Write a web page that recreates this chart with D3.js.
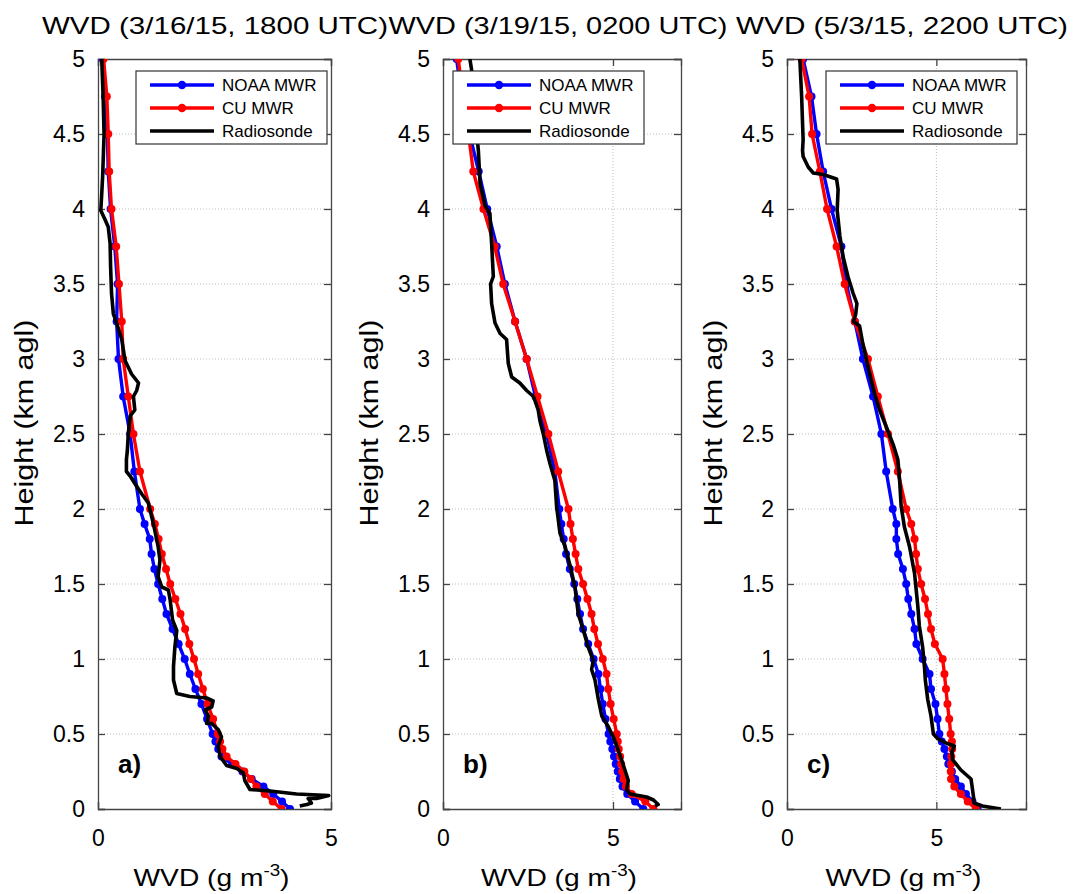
<!DOCTYPE html>
<html>
<head>
<meta charset="utf-8">
<script src="https://cdn.jsdelivr.net/npm/d3@7"></script>
<style>
  body { margin: 0; background: #fff; }
  text { font-family: "Liberation Sans", Arial, sans-serif; fill: #000; }
</style>
</head>
<body>
<svg id="chart"></svg>
<script>
var WIDTH = 1075;
var HEIGHT = 894;

// retrieval levels (km agl) shared by both radiometers
var levels = [0, 0.05, 0.1, 0.15, 0.2, 0.25, 0.3, 0.35, 0.4, 0.45, 0.5,
  0.6, 0.7, 0.8, 0.9, 1.0, 1.1, 1.2, 1.3, 1.4, 1.5, 1.6, 1.7, 1.8, 1.9, 2.0,
  2.25, 2.5, 2.75, 3.0, 3.25, 3.5, 3.75, 4.0, 4.25, 4.5, 4.75, 5.0];

// panel a) 3/16/15 1800 UTC
var noaaA = [4.12, 3.95, 3.76, 3.55, 3.30, 3.10, 2.88, 2.65, 2.58, 2.52, 2.46,
  2.34, 2.22, 2.09, 1.97, 1.86, 1.73, 1.60, 1.47, 1.38, 1.29, 1.21, 1.15, 1.11, 1.00, 0.90,
  0.78, 0.69, 0.54, 0.44, 0.40, 0.42, 0.36, 0.27, 0.22, 0.20, 0.15, 0.10];
var cuA = [3.94, 3.75, 3.58, 3.40, 3.28, 3.14, 2.95, 2.76, 2.67, 2.62, 2.57,
  2.47, 2.35, 2.25, 2.15, 2.06, 1.96, 1.87, 1.77, 1.66, 1.55, 1.46, 1.37, 1.30, 1.22, 1.12,
  0.90, 0.76, 0.65, 0.54, 0.51, 0.45, 0.39, 0.29, 0.24, 0.22, 0.19, 0.12];
var sondeA = [[4.33, 0.02], [4.48, 0.03], [4.58, 0.04], [4.51, 0.07], [4.69, 0.07], [4.95, 0.09],
  [4.26, 0.10], [3.69, 0.12], [3.26, 0.13], [3.15, 0.19], [3.12, 0.24], [2.98, 0.27], [2.76, 0.29],
  [2.62, 0.35], [2.58, 0.42], [2.65, 0.48], [2.58, 0.53], [2.44, 0.57], [2.33, 0.57], [2.37, 0.62],
  [2.30, 0.66], [2.44, 0.68], [2.47, 0.72], [2.33, 0.74], [1.97, 0.75], [1.69, 0.77], [1.62, 0.86],
  [1.62, 0.95], [1.65, 1.08], [1.69, 1.19], [1.60, 1.26], [1.55, 1.39], [1.51, 1.46], [1.37, 1.48],
  [1.29, 1.55], [1.33, 1.66], [1.29, 1.75], [1.19, 1.90], [1.08, 2.04], [0.94, 2.10], [0.79, 2.17],
  [0.69, 2.22], [0.61, 2.25], [0.61, 2.33], [0.63, 2.39], [0.65, 2.50], [0.69, 2.62], [0.79, 2.66],
  [0.76, 2.75], [0.83, 2.79], [0.87, 2.84], [0.72, 2.90], [0.58, 2.99], [0.51, 3.13], [0.40, 3.24],
  [0.33, 3.30], [0.29, 3.44], [0.27, 3.62], [0.26, 3.77], [0.22, 3.88], [0.15, 3.93], [0.06, 3.99],
  [0.08, 4.10], [0.10, 4.22], [0.13, 4.50], [0.11, 4.75], [0.08, 5.0]];

// panel b) 3/19/15 0200 UTC
var noaaB = [5.89, 5.65, 5.42, 5.28, 5.20, 5.14, 5.08, 5.03, 4.98, 4.92, 4.87,
  4.78, 4.70, 4.63, 4.57, 4.43, 4.27, 4.12, 4.03, 3.95, 3.86, 3.73, 3.62, 3.55, 3.48, 3.42,
  3.29, 3.05, 2.72, 2.46, 2.12, 1.82, 1.58, 1.30, 1.05, 0.78, 0.55, 0.40];
var cuB = [6.19, 5.95, 5.55, 5.38, 5.31, 5.27, 5.24, 5.21, 5.17, 5.14, 5.11,
  5.02, 4.93, 4.86, 4.81, 4.70, 4.56, 4.45, 4.37, 4.25, 4.12, 3.98, 3.90, 3.82, 3.75, 3.69,
  3.39, 3.10, 2.78, 2.46, 2.12, 1.77, 1.52, 1.19, 0.89, 0.75, 0.58, 0.45];
var sondeB = [[6.24, 0.02], [6.33, 0.03], [6.19, 0.06], [5.99, 0.08], [5.50, 0.10], [5.40, 0.13],
  [5.45, 0.19], [5.35, 0.26], [5.25, 0.33], [5.11, 0.42], [5.01, 0.48], [4.86, 0.55], [4.67, 0.62],
  [4.57, 0.73], [4.47, 0.86], [4.37, 0.93], [4.42, 0.99], [4.27, 1.08], [4.13, 1.19], [3.98, 1.30],
  [3.88, 1.48], [3.74, 1.62], [3.59, 1.75], [3.44, 1.84], [3.34, 2.02], [3.29, 2.19], [3.15, 2.30],
  [3.05, 2.39], [2.95, 2.50], [2.85, 2.59], [2.80, 2.66], [2.66, 2.75], [2.46, 2.79], [2.26, 2.84],
  [2.02, 2.88], [1.92, 2.97], [1.87, 3.13], [1.68, 3.17], [1.53, 3.24], [1.43, 3.37], [1.40, 3.50],
  [1.48, 3.55], [1.43, 3.77], [1.38, 3.97], [1.24, 4.02], [1.09, 4.17], [1.04, 4.39], [0.95, 4.60],
  [0.88, 4.80], [0.84, 4.93], [0.79, 5.0]];

// panel c) 5/3/15 2200 UTC
var noaaC = [6.38, 6.21, 5.99, 5.82, 5.63, 5.52, 5.40, 5.35, 5.27, 5.18, 5.10,
  5.04, 4.97, 4.82, 4.77, 4.54, 4.33, 4.27, 4.16, 4.06, 3.99, 3.88, 3.72, 3.66, 3.66, 3.54,
  3.32, 3.16, 2.88, 2.54, 2.27, 1.99, 1.82, 1.49, 1.21, 0.99, 0.82, 0.54];
var cuC = [6.32, 6.05, 5.82, 5.60, 5.49, 5.48, 5.49, 5.50, 5.53, 5.52, 5.48,
  5.43, 5.37, 5.32, 5.27, 5.21, 4.95, 4.82, 4.72, 4.62, 4.49, 4.38, 4.32, 4.27, 4.16, 3.99,
  3.71, 3.38, 3.04, 2.71, 2.27, 1.93, 1.66, 1.34, 1.10, 0.84, 0.74, 0.49];
var sondeC = [[7.16, 0.0], [6.54, 0.02], [6.27, 0.04], [6.21, 0.13], [6.16, 0.20], [5.82, 0.26],
  [5.54, 0.33], [5.52, 0.38], [5.60, 0.42], [5.32, 0.44], [5.04, 0.47], [4.90, 0.50], [4.82, 0.62],
  [4.71, 0.73], [4.63, 0.86], [4.60, 0.95], [4.54, 1.08], [4.43, 1.22], [4.38, 1.35], [4.27, 1.57],
  [4.10, 1.75], [3.93, 1.88], [3.82, 2.02], [3.77, 2.19], [3.71, 2.33], [3.57, 2.42], [3.32, 2.55],
  [3.10, 2.66], [2.93, 2.77], [2.71, 2.95], [2.54, 3.10], [2.43, 3.22], [2.23, 3.25], [2.30, 3.30],
  [2.34, 3.37], [2.21, 3.44], [2.04, 3.55], [1.88, 3.68], [1.77, 3.82], [1.68, 3.99], [1.71, 4.13],
  [1.66, 4.20], [1.21, 4.23], [0.88, 4.24], [0.71, 4.28], [0.54, 4.35], [0.52, 4.39], [0.54, 4.46],
  [0.49, 4.75], [0.43, 5.0]];

var titles = ["WVD (3/16/15, 1800 UTC)", "WVD (3/19/15, 0200 UTC)", "WVD (5/3/15, 2200 UTC)"];
var panelLetters = ["a)", "b)", "c)"];
var xMaxes = [5, 7, 8];
var xTicks = [0, 5];
var yTicks = [0, 0.5, 1, 1.5, 2, 2.5, 3, 3.5, 4, 4.5, 5];
var seriesNames = ["NOAA MWR", "CU MWR", "Radiosonde"];
var seriesColors = ["#0000ff", "#ff0000", "#000000"];

// layout
var boxes = [{left: 98, right: 331}, {left: 443, right: 681}, {left: 787, right: 1026}];
var TOP = 59, BOTTOM = 809;
var titleX = [215, 558, 902], titleW = [346, 339, 332];
var legendX = [136, 453, 826];

var panels = [
  {noaa: noaaA, cu: cuA, sonde: sondeA},
  {noaa: noaaB, cu: cuB, sonde: sondeB},
  {noaa: noaaC, cu: cuC, sonde: sondeC}
];

var svg = d3.select("#chart").attr("width", WIDTH).attr("height", HEIGHT);

panels.forEach(function (p, i) {
  var b = boxes[i];
  var x = d3.scaleLinear().domain([0, xMaxes[i]]).range([b.left, b.right]);
  var y = d3.scaleLinear().domain([0, 5]).range([BOTTOM, TOP]);
  var g = svg.append("g");

  g.append("clipPath").attr("id", "clip" + i)
    .append("rect").attr("x", b.left).attr("y", TOP)
    .attr("width", b.right - b.left).attr("height", BOTTOM - TOP);

  //dotted grid
  var grid = g.append("g").style("stroke", "#bdbdbd").style("stroke-dasharray", "1,2").style("stroke-width", 1);
  yTicks.slice(1, -1).forEach(function (t) {
    grid.append("line").attr("x1", b.left).attr("x2", b.right).attr("y1", y(t)).attr("y2", y(t));
  });
  xTicks.filter(function (t) { return t > 0 && t < xMaxes[i]; }).forEach(function (t) {
    grid.append("line").attr("x1", x(t)).attr("x2", x(t)).attr("y1", TOP).attr("y2", BOTTOM);
  });

  //axes: left/bottom with labels, right/top mirrored, ticks pointing inward
  var yAxis = d3.axisLeft(y).tickValues(yTicks).tickSize(-7).tickPadding(13).tickFormat(d3.format("~g"));
  var xAxis = d3.axisBottom(x).tickValues(xTicks).tickSize(-7).tickPadding(21).tickFormat(d3.format("~g"));
  g.append("g").attr("transform", "translate(" + b.left + ",0)").call(yAxis);
  g.append("g").attr("transform", "translate(0," + BOTTOM + ")").call(xAxis);
  g.append("g").attr("transform", "translate(" + b.right + ",0)")
    .call(d3.axisRight(y).tickValues(yTicks).tickSize(-7).tickFormat(""));
  g.append("g").attr("transform", "translate(0," + TOP + ")")
    .call(d3.axisTop(x).tickValues(xTicks).tickSize(-7).tickFormat(""));
  g.selectAll(".domain").style("stroke", "#454545").style("stroke-width", 1.3);
  g.selectAll(".tick line").style("stroke", "#454545").style("stroke-width", 1.3);
  g.selectAll(".tick text").style("font-size", "23px").style("font-family", "Liberation Sans, Arial, sans-serif");

  //data
  var plot = g.append("g").attr("clip-path", "url(#clip" + i + ")");
  var lvl = d3.line().x(function (d) { return x(d[0]); }).y(function (d) { return y(d[1]); });
  [p.noaa, p.cu].forEach(function (vals, k) {
    var pts = vals.map(function (v, j) { return [v, levels[j]]; });
    plot.append("path").datum(pts).attr("d", lvl)
      .style("fill", "none").style("stroke", seriesColors[k]).style("stroke-width", 3.4);
    plot.selectAll(null).data(pts).enter().append("circle")
      .attr("cx", function (d) { return x(d[0]); })
      .attr("cy", function (d) { return y(d[1]); })
      .attr("r", 4).style("fill", seriesColors[k]);
  });
  plot.append("path").datum(p.sonde).attr("d", lvl)
    .style("fill", "none").style("stroke", seriesColors[2]).style("stroke-width", 3.6)
    .style("stroke-linejoin", "round");

  //titles and labels
  svg.append("text").attr("x", titleX[i]).attr("y", 34).attr("text-anchor", "middle")
    .attr("textLength", titleW[i]).attr("lengthAdjust", "spacingAndGlyphs")
    .style("font-size", "24px").text(titles[i]);

  svg.append("text")
    .attr("transform", "translate(" + (b.left - 65) + ",423) rotate(-90)")
    .attr("text-anchor", "middle").attr("textLength", 207).attr("lengthAdjust", "spacingAndGlyphs")
    .style("font-size", "25px").text("Height (km agl)");

  var xl = svg.append("text").attr("x", (b.left + b.right) / 2 - 3).attr("y", 886)
    .attr("text-anchor", "middle").attr("textLength", 156).attr("lengthAdjust", "spacingAndGlyphs")
    .style("font-size", "24px");
  xl.append("tspan").text("WVD (g m");
  xl.append("tspan").attr("dy", -10).style("font-size", "16px").text("-3");
  xl.append("tspan").attr("dy", 10).text(")");

  svg.append("text").attr("x", b.left + 20).attr("y", 773)
    .style("font-size", "26px").style("font-weight", "bold").text(panelLetters[i]);

  //legend
  var lg = svg.append("g").attr("transform", "translate(" + legendX[i] + ",71)");
  lg.append("rect").attr("width", 191).attr("height", 73)
    .style("fill", "#fff").style("stroke", "#333").style("stroke-width", 1.2);
  seriesNames.forEach(function (name, k) {
    var ly = 14 + k * 23;
    lg.append("line").attr("x1", 14).attr("x2", 78).attr("y1", ly).attr("y2", ly)
      .style("stroke", seriesColors[k]).style("stroke-width", 3.4);
    if (k < 2) {
      lg.append("circle").attr("cx", 46).attr("cy", ly).attr("r", 4.2).style("fill", seriesColors[k]);
    }
    lg.append("text").attr("x", 86).attr("y", ly + 6).style("font-size", "17px").text(name);
  });
});
</script>
</body>
</html>
